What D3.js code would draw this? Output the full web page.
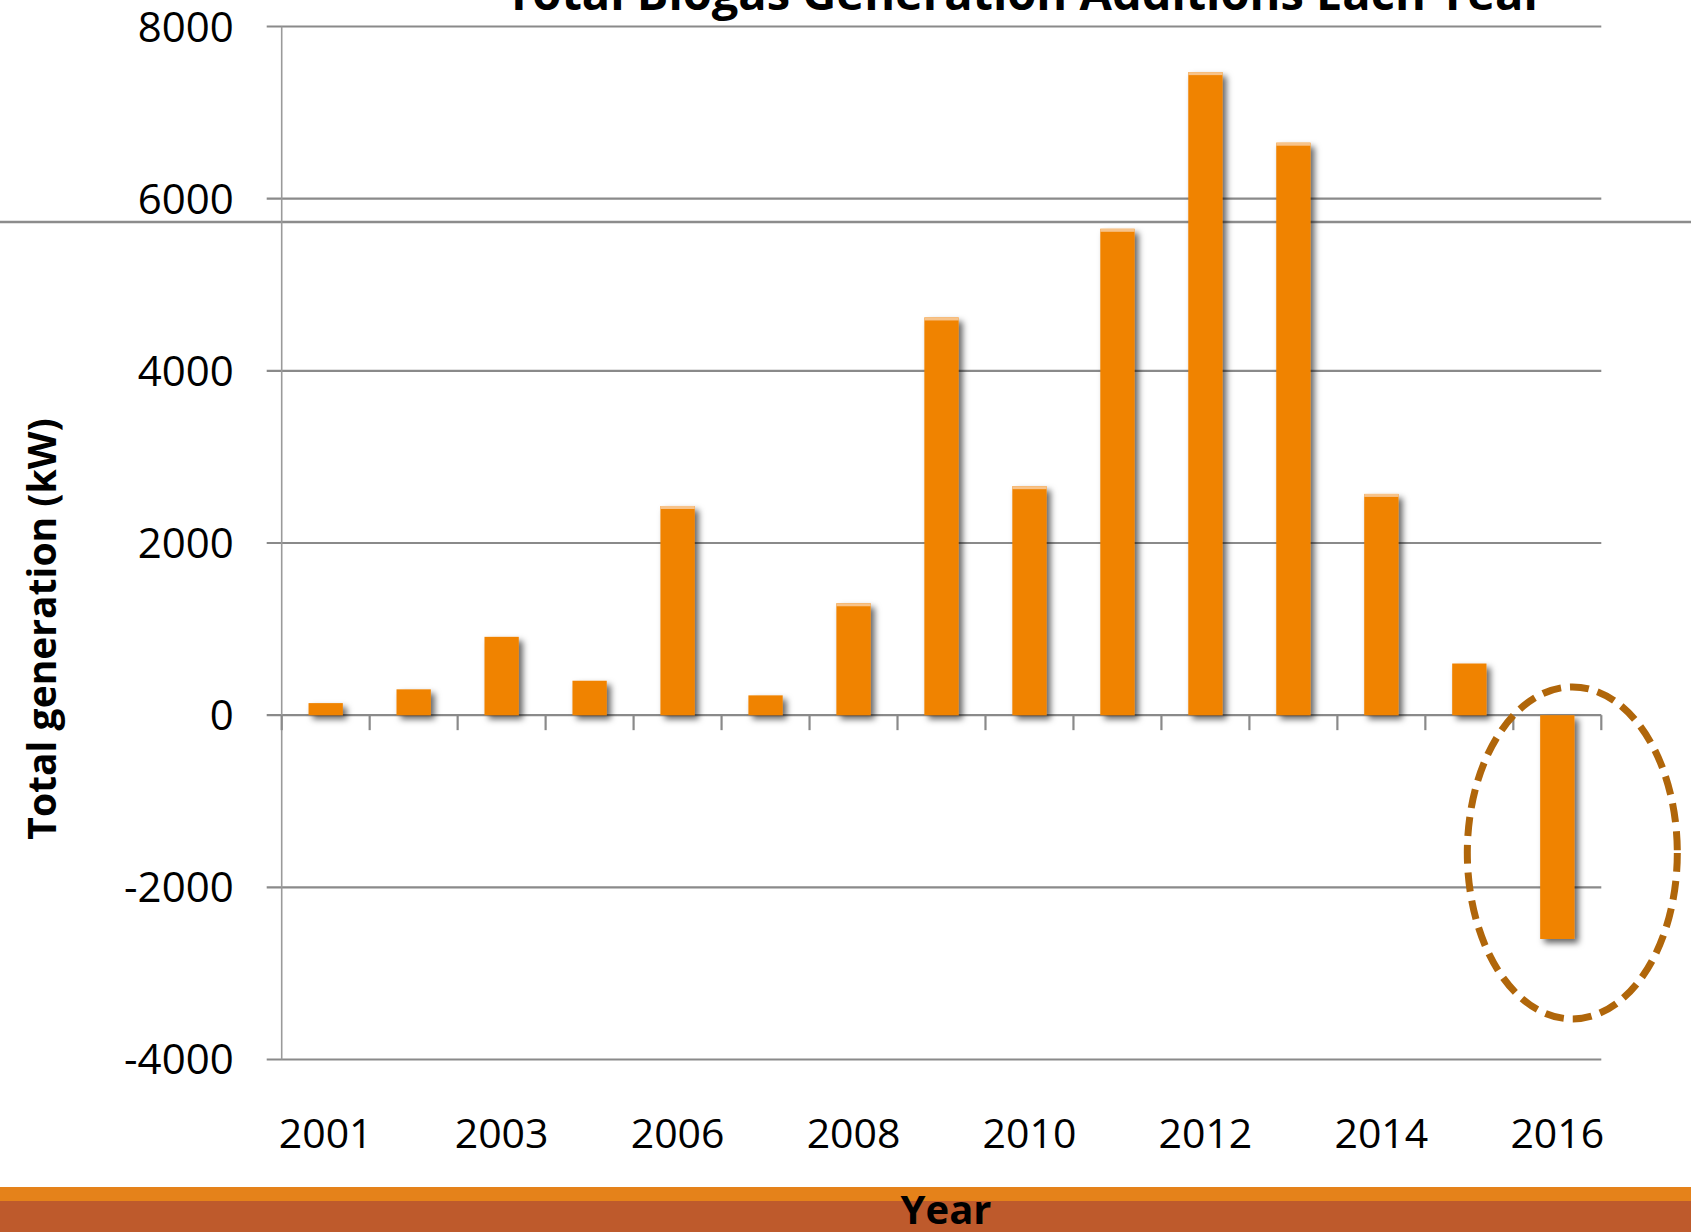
<!DOCTYPE html>
<html>
<head>
<meta charset="utf-8">
<script src="https://cdn.jsdelivr.net/npm/d3@7"></script>
<style>
  body { margin: 0; background: #fff; }
  text { font-family: "Open Sans", "Liberation Sans", sans-serif; }
</style>
</head>
<body>
<svg id="chart"></svg>
<script>
const years  = ["2001","2002","2003","2004","2006","2007","2008","2009","2010","2011","2012","2013","2014","2015","2016"];
const values = [140, 300, 910, 400, 2430, 230, 1300, 4620, 2660, 5650, 7470, 6650, 2570, 600, -2600];
const yTicks = [-4000, -2000, 0, 2000, 4000, 6000, 8000];
const labeledYears = ["2001","2003","2006","2008","2010","2012","2014","2016"];

const containerWidth  = 1691;
const containerHeight = 1232;

const plot = {left: 281.7, right: 1601.3, top: 26.5, bottom: 1059.5};

const svg = d3.select("#chart")
              .attr("width", containerWidth)
              .attr("height", containerHeight);

// drop shadow for the bars
const defs = svg.append("defs");
defs.append("filter")
    .attr("id", "shadow")
    .attr("x", "-50%").attr("y", "-10%")
    .attr("width", "200%").attr("height", "130%")
  .append("feDropShadow")
    .attr("dx", 4).attr("dy", 4)
    .attr("stdDeviation", 3)
    .attr("flood-color", "#000")
    .attr("flood-opacity", 0.6);

const xScale = d3.scaleBand()
  .domain(years)
  .range([plot.left, plot.right]);

const yScale = d3.scaleLinear()
  .domain([-4000, 8000])
  .range([plot.bottom, plot.top]);

const barWidth = xScale.bandwidth() * 0.39;

// full width slide line
svg.append("line")
  .attr("x1", 0).attr("x2", containerWidth)
  .attr("y1", 222).attr("y2", 222)
  .attr("stroke", "#8c8c8c")
  .attr("stroke-width", 2.5);

// gridlines (incl. zero line)
svg.append("g")
  .selectAll("line")
  .data(yTicks)
  .join("line")
  .attr("x1", plot.left - 15)
  .attr("x2", plot.right)
  .attr("y1", d => yScale(d))
  .attr("y2", d => yScale(d))
  .attr("stroke", "#8a8a8a")
  .attr("stroke-width", 2.2);

// y axis line
svg.append("line")
  .attr("x1", plot.left).attr("x2", plot.left)
  .attr("y1", plot.top).attr("y2", plot.bottom)
  .attr("stroke", "#9a9a9a")
  .attr("stroke-width", 1.6);

// x ticks hanging from zero line
const tickPos = years.map(d => xScale(d)).concat([plot.right]);
svg.append("g")
  .selectAll("line")
  .data(tickPos)
  .join("line")
  .attr("x1", d => d).attr("x2", d => d)
  .attr("y1", yScale(0)).attr("y2", yScale(0) + 15)
  .attr("stroke", "#8a8a8a")
  .attr("stroke-width", 2.2);

// bars
const bars = svg.append("g").attr("filter", "url(#shadow)");
bars.selectAll("rect")
  .data(years)
  .join("rect")
  .attr("x", d => xScale(d) + (xScale.bandwidth() - barWidth) / 2)
  .attr("y", (d, i) => yScale(Math.max(0, values[i])))
  .attr("width", barWidth)
  .attr("height", (d, i) => Math.abs(yScale(values[i]) - yScale(0)))
  .attr("fill", "#f08306");

// light top edge on positive bars
svg.append("g")
  .selectAll("rect")
  .data(years.filter((d, i) => values[i] > 1000))
  .join("rect")
  .attr("x", d => xScale(d) + (xScale.bandwidth() - barWidth) / 2)
  .attr("y", d => yScale(values[years.indexOf(d)]))
  .attr("width", barWidth)
  .attr("height", 3)
  .attr("fill", "#f7c38a");

// y labels
svg.append("g")
  .selectAll("text")
  .data(yTicks)
  .join("text")
  .attr("x", plot.left - 48)
  .attr("y", d => yScale(d))
  .attr("dy", "0.357em")
  .attr("text-anchor", "end")
  .attr("font-size", 42)
  .attr("fill", "#000")
  .text(d => d);

// x labels
svg.append("g")
  .selectAll("text")
  .data(labeledYears)
  .join("text")
  .attr("x", d => xScale(d) + xScale.bandwidth() / 2)
  .attr("y", 1148)
  .attr("text-anchor", "middle")
  .attr("font-size", 41)
  .attr("fill", "#000")
  .text(d => d);

// title (cut off by the top edge)
svg.append("text")
  .attr("x", 1025)
  .attr("y", 10)
  .attr("text-anchor", "middle")
  .attr("font-size", 47)
  .attr("font-weight", "bold")
  .text("Total Biogas Generation Additions Each Year");

// y axis title
svg.append("text")
  .attr("transform", "translate(56,629) rotate(-90)")
  .attr("text-anchor", "middle")
  .attr("font-size", 39)
  .attr("font-weight", "bold")
  .text("Total generation (kW)");

// dashed ellipse around 2016
const last = years[years.length - 1];
svg.append("ellipse")
  .attr("cx", xScale(last) + xScale.bandwidth() / 2 + 15)
  .attr("cy", yScale(-1600))
  .attr("rx", 105)
  .attr("ry", 166)
  .attr("fill", "none")
  .attr("stroke", "#b0660a")
  .attr("stroke-width", 7)
  .attr("stroke-dasharray", "19,9");

// bottom slide band
svg.append("rect")
  .attr("x", 0).attr("y", 1187)
  .attr("width", containerWidth).attr("height", 14)
  .attr("fill", "#e5821a");
svg.append("rect")
  .attr("x", 0).attr("y", 1201)
  .attr("width", containerWidth).attr("height", 31)
  .attr("fill", "#be5a2c");

svg.append("text")
  .attr("x", 946)
  .attr("y", 1224)
  .attr("text-anchor", "middle")
  .attr("font-size", 40)
  .attr("font-weight", "bold")
  .attr("fill", "#000")
  .text("Year");
</script>
</body>
</html>
